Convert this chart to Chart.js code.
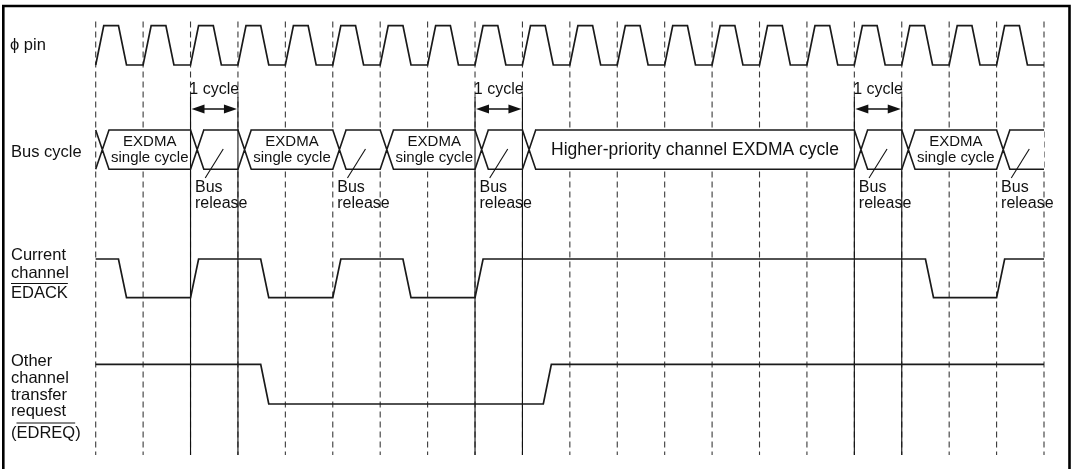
<!DOCTYPE html>
<html><head><meta charset="utf-8">
<script src="https://cdn.jsdelivr.net/npm/chart.js@4/dist/chart.umd.min.js"></script>
<style>html,body{margin:0;padding:0;background:#fff;}canvas{display:block}</style>
</head><body>
<canvas id="c" width="1073" height="469"></canvas>
<script>
// ---------------- data (time in clock cycles) ----------------
const cycleTicks = [0,1,2,3,4,5,6,7,8,9,10,11,12,13,14,15,16,17,18,19,20];
const phiRise = [0,1,2,3,4,5,6,7,8,9,10,11,12,13,14,15,16,17,18,19];
const phiFall = [0.48,1.48,2.48,3.48,4.48,5.48,6.48,7.48,8.48,9.48,10.48,11.48,12.48,13.48,14.48,15.48,16.48,17.48,18.48,19.48];
const edackTimes  = [0.48, 2, 3.48, 5, 6.48, 8, 17.5, 19];
const edackLevels = [0,    1, 0,    1, 0,    1, 0,    1];
const edreqTimes  = [3.48, 9.44];
const edreqLevels = [0,    1];
const busBounds = [0,2,3,5,6,8,9,16,17,19,20];
const busKinds  = ['exdma','release','exdma','release','exdma','release','higher','release','exdma','release'];
const oneCycleStarts = [2, 8, 16];
const rowLabels = {
  phi: ['\u03D5 pin'],
  bus: ['Bus cycle'],
  edack: ['Current','channel','EDACK'],
  edreq: ['Other','channel','transfer','request','(EDREQ)']
};

// ---------------- layout (y in canvas px via a reversed y scale) ----------------
const lanes = { phi:{lo:65,hi:25.7}, bus:{top:130,bot:169.3}, edack:{lo:297.7,hi:259}, edreq:{lo:404,hi:364.3} };
const RAMP = 0.17, XW = 0.28, END = 20;
const INK = '#1a1a1a';

function wave(init, times, levels, lane){
  const Y = v => v ? lane.hi : lane.lo;
  const pts = [{x:0,y:Y(init)}]; let cur = init;
  times.forEach((t,i)=>{ const lv = levels[i]; if(lv===cur) return;
    pts.push({x:t,y:Y(cur)}); pts.push({x:t+RAMP,y:Y(lv)}); cur = lv; });
  pts.push({x:END,y:Y(cur)});
  return pts;
}
const phiTimes = [], phiLevels = [];
phiRise.forEach((r,i)=>{ phiTimes.push(r, phiFall[i]); phiLevels.push(1,0); });

function busLines(){
  const pts = []; const T = lanes.bus.top, B = lanes.bus.bot;
  for(let i=0;i<busKinds.length;i++){
    const s = busBounds[i], e = busBounds[i+1], last = i===busKinds.length-1;
    [[B,T],[T,B]].forEach(([a,b])=>{
      pts.push({x:s,y:a}); pts.push({x:s+XW,y:b}); pts.push({x:e,y:b});
      if(!last) pts.push({x:e+XW,y:a});
      pts.push({x:e,y:null});
    });
  }
  return pts;
}
function verticals(ts, y0, y1){
  const pts=[]; ts.forEach(t=>{pts.push({x:t,y:y0});pts.push({x:t,y:y1});pts.push({x:t,y:null});}); return pts;
}
const solidTs = []; oneCycleStarts.forEach(s=>solidTs.push(s, s+1));

const sig = (data, w) => ({data, borderColor:INK, borderWidth:w||1.7, pointRadius:0, tension:0, fill:false, clip:false, spanGaps:false, order:0});

const FONT = '"Liberation Sans", Arial, Helvetica, sans-serif';
const DASHED_INDEX = 5;

// white interior of bus boxes (hides dashed grid inside them, like the reference)
const boxFill = {
  id:'boxFill',
  afterDatasetDraw(chart, args){
    if(args.index !== DASHED_INDEX) return;
    const {ctx} = chart, X = chart.scales.x, Y = chart.scales.y;
    const px = t => X.getPixelForValue(t), py = v => Y.getPixelForValue(v);
    const T = py(lanes.bus.top), B = py(lanes.bus.bot), M = (T+B)/2;
    ctx.save(); ctx.fillStyle = '#fff';
    busKinds.forEach((k,i)=>{
      const s = busBounds[i], e = busBounds[i+1], last = i===busKinds.length-1;
      ctx.beginPath();
      ctx.moveTo(px(s+XW/2), M); ctx.lineTo(px(s+XW), T); ctx.lineTo(px(e), T);
      if(!last) ctx.lineTo(px(e+XW/2), M);
      ctx.lineTo(px(e), B); ctx.lineTo(px(s+XW), B); ctx.closePath(); ctx.fill();
    });
    ctx.restore();
  }
};

const textPlugin = {
  id:'timingText',
  afterDatasetsDraw(chart){
    const {ctx} = chart, X = chart.scales.x, Y = chart.scales.y;
    const px = t => X.getPixelForValue(t), py = v => Y.getPixelForValue(v);
    ctx.save();
    ctx.fillStyle = '#111'; ctx.strokeStyle = '#111'; ctx.textBaseline = 'middle';
    ctx.font = '16.5px ' + FONT; ctx.textAlign = 'left';
    ctx.fillText(rowLabels.phi[0], 10, py(45));
    ctx.fillText(rowLabels.bus[0], 11, py(152));
    const eY = [255, 273, 293];
    rowLabels.edack.forEach((s,i)=>ctx.fillText(s, 11, py(eY[i])));
    const rY = [361.5, 378, 395, 411.5, 433];
    rowLabels.edreq.forEach((s,i)=>ctx.fillText(s, 11, py(rY[i])));
    ctx.lineWidth = 1.2;
    const wE = ctx.measureText(rowLabels.edack[2]).width;
    ctx.beginPath(); ctx.moveTo(11, py(283.5)); ctx.lineTo(11+wE, py(283.5)); ctx.stroke();
    const wP = ctx.measureText('(').width, wQ = ctx.measureText('EDREQ').width;
    ctx.beginPath(); ctx.moveTo(11+wP, py(423)); ctx.lineTo(11+wP+wQ, py(423)); ctx.stroke();
    ctx.font = '16px ' + FONT; ctx.textAlign = 'center';
    oneCycleStarts.forEach(s=>{
      const a = px(s), b = px(s+1), yy = py(109);
      ctx.fillText('1 cycle', (a+b)/2, py(90));
      ctx.lineWidth = 1.5;
      ctx.beginPath(); ctx.moveTo(a+10, yy); ctx.lineTo(b-10, yy); ctx.stroke();
      ctx.beginPath(); ctx.moveTo(a+1, yy); ctx.lineTo(a+14, yy-4.5); ctx.lineTo(a+14, yy+4.5); ctx.closePath(); ctx.fill();
      ctx.beginPath(); ctx.moveTo(b-1, yy); ctx.lineTo(b-14, yy-4.5); ctx.lineTo(b-14, yy+4.5); ctx.closePath(); ctx.fill();
    });
    busKinds.forEach((k,i)=>{
      const s = busBounds[i], e = busBounds[i+1], c = px((s+e)/2 + XW/2);
      if(k==='exdma'){
        ctx.font = '15px ' + FONT; ctx.textAlign='center';
        ctx.fillText('EXDMA', c, py(142)); ctx.fillText('single cycle', c, py(158));
      } else if(k==='higher'){
        ctx.font = '17.5px ' + FONT; ctx.textAlign='center';
        ctx.fillText('Higher-priority channel EXDMA cycle', c, py(150));
      } else {
        ctx.lineWidth = 1.1;
        ctx.beginPath(); ctx.moveTo(px(s+0.69), py(149)); ctx.lineTo(px(s+0.31), py(178)); ctx.stroke();
        ctx.font = '16px ' + FONT; ctx.textAlign='left';
        ctx.fillText('Bus', px(s)+4.5, py(188)); ctx.fillText('release', px(s)+4.5, py(204));
      }
    });
    ctx.lineWidth = 2.6; ctx.strokeStyle = '#000';
    ctx.beginPath(); ctx.moveTo(3.3, 480); ctx.lineTo(3.3, 6); ctx.lineTo(1069.5, 6); ctx.lineTo(1069.5, 480); ctx.stroke();
    ctx.restore();
  }
};

new Chart(document.getElementById('c'), {
  type:'line',
  data:{ datasets:[
    sig(wave(0, phiTimes, phiLevels, lanes.phi)),
    sig(busLines(), 1.6),
    sig(wave(1, edackTimes, edackLevels, lanes.edack)),
    sig(wave(1, edreqTimes, edreqLevels, lanes.edreq)),
    {data:verticals(solidTs, 97, 455), borderColor:'#111', borderWidth:1.1, pointRadius:0, clip:false, order:1},
    {data:verticals(cycleTicks, 21.5, 455), borderColor:'#3a3a3a', borderWidth:1.1, borderDash:[6,4], pointRadius:0, clip:false, order:2}
  ]},
  options:{
    responsive:false, animation:false, devicePixelRatio:1,
    layout:{padding:{left:95.7, right:1073-1044, top:0, bottom:0}},
    plugins:{legend:{display:false}, tooltip:{enabled:false}},
    events:[],
    scales:{
      x:{type:'linear', min:0, max:20, display:false},
      y:{type:'linear', min:0, max:469, reverse:true, display:false}
    }
  },
  plugins:[boxFill, textPlugin]
});
</script>
</body></html>
